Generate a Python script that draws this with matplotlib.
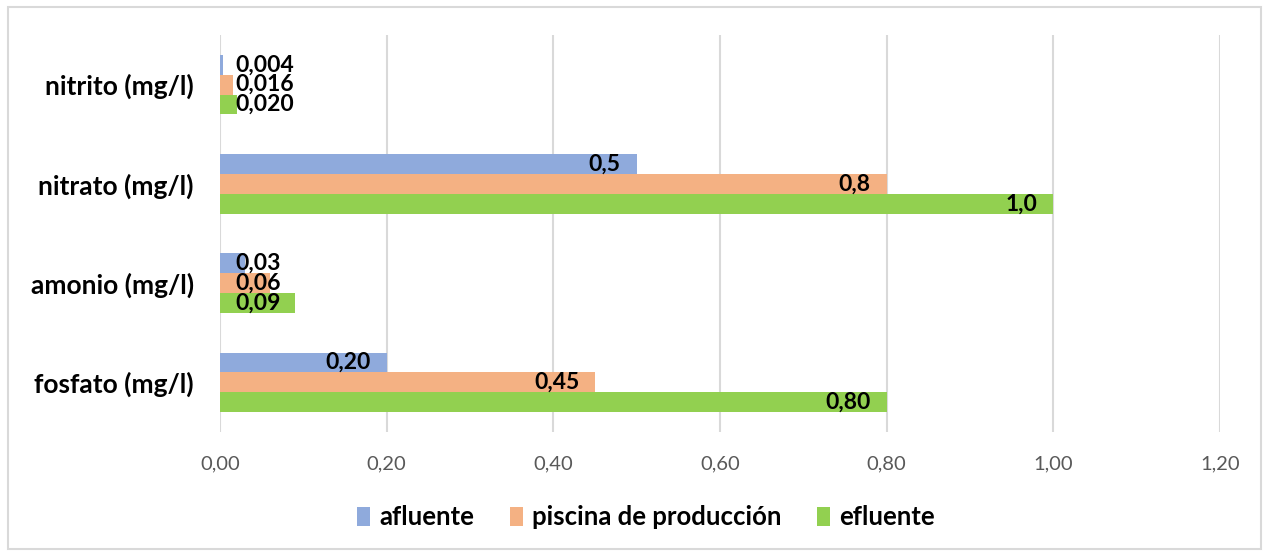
import numpy as np
import matplotlib
matplotlib.use("Agg")
import matplotlib.pyplot as plt
from matplotlib.patches import Rectangle

plt.rcParams['font.family'] = ['Lato', 'DejaVu Sans']

# datos de calidad de agua
parametros = ["fosfato (mg/l)", "amonio (mg/l)", "nitrato (mg/l)", "nitrito (mg/l)"]
afluente = [0.20, 0.03, 0.5, 0.004]
piscina = [0.45, 0.06, 0.8, 0.016]
efluente = [0.80, 0.09, 1.0, 0.020]
etiq_afluente = ["0,20", "0,03", "0,5", "0,004"]
etiq_piscina = ["0,45", "0,06", "0,8", "0,016"]
etiq_efluente = ["0,80", "0,09", "1,0", "0,020"]
ticks_x = [0.0, 0.2, 0.4, 0.6, 0.8, 1.0, 1.2]

colores = ["#8FAADC", "#F4B183", "#92D050"]
nombres = ["afluente", "piscina de producción", "efluente"]

fig = plt.figure(figsize=(12.69, 5.56), dpi=100)
ax = fig.add_axes([0.1734, 0.223, 0.788, 0.714])

y = np.arange(len(parametros))
h = 0.2
series = [(afluente, etiq_afluente, h), (piscina, etiq_piscina, 0), (efluente, etiq_efluente, -h)]

for (vals, etiqs, off), color, nombre in zip(series, colores, nombres):
    ax.barh(y + off, vals, height=h, color=color, label=nombre, zorder=2)
    for yi, v, t in zip(y, vals, etiqs):
        if v > 0.15:
            ax.text(v - 0.019, yi + off, t, ha='right', va='center',
                    fontsize=16.5, fontweight='bold', zorder=3)
        else:
            ax.text(0.018, yi + off, t, ha='left', va='center',
                    fontsize=16.5, fontweight='bold', zorder=3)

ax.set_xlim(0, 1.2)
ax.set_ylim(-0.5, 3.5)
ax.set_xticks(ticks_x)
ax.set_xticklabels([f"{t:.2f}".replace(".", ",") for t in ticks_x], fontsize=14.5, color="#595959")
ax.set_yticks(y)
ax.set_yticklabels(parametros, fontsize=19, fontweight='bold')
ax.tick_params(axis='both', length=0)
ax.tick_params(axis='x', pad=17)
ax.tick_params(axis='y', pad=19)
ax.grid(axis='x', color="#D9D9D9", linewidth=1.5, zorder=0)
for s in ax.spines.values():
    s.set_visible(False)

leg = fig.legend(loc='center', bbox_to_anchor=(0.509, 0.07), ncol=3, frameon=False,
                 prop={'size': 18.5, 'weight': 'bold'}, handlelength=0.5, handleheight=0.75,
                 handletextpad=0.35, columnspacing=1.4)

# borde del gráfico
fig.patches.append(Rectangle((0.006, 0.012), 0.988, 0.976, transform=fig.transFigure,
                             fill=False, edgecolor="#D9D9D9", linewidth=1.5))

fig.savefig("out.png", dpi=100)
